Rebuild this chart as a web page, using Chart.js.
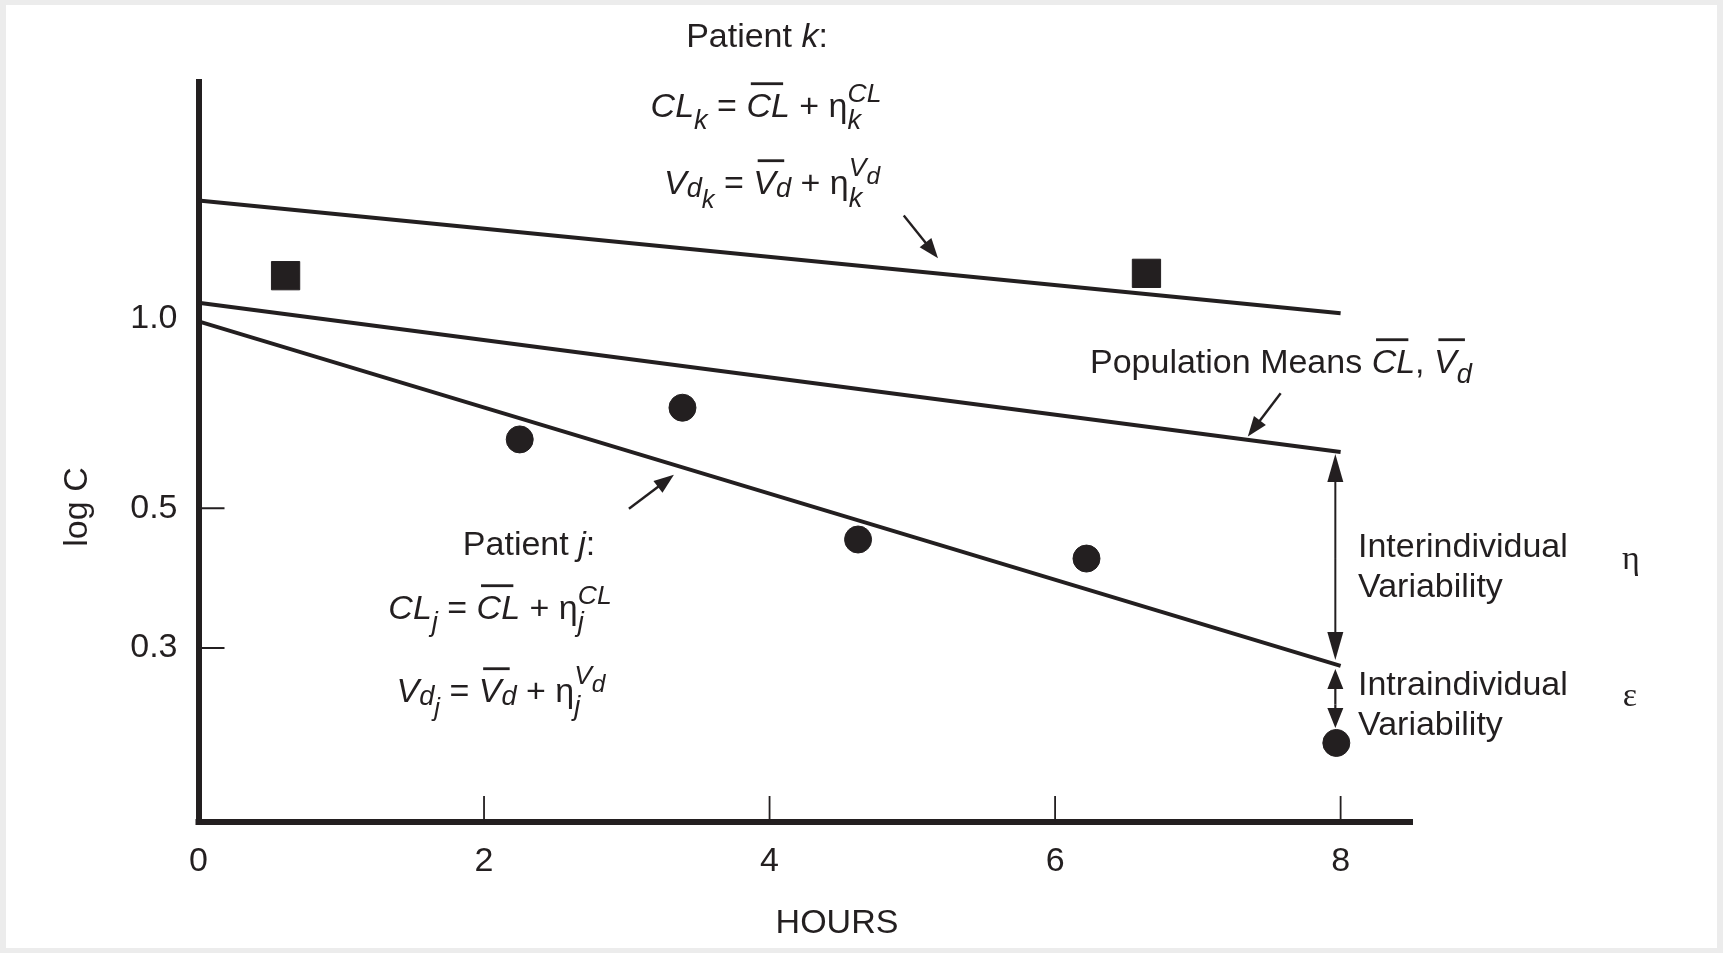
<!DOCTYPE html>
<html>
<head>
<meta charset="utf-8">
<script src="https://cdn.jsdelivr.net/npm/chart.js@4.4.0/dist/chart.umd.min.js"></script>
<style>
html, body { margin: 0; padding: 0; background: #fff; }
#wrap { width: 1723px; height: 953px; }
</style>
</head>
<body>
<div id="wrap"><canvas id="pkChart" width="1723" height="953"></canvas></div>
<script>
// Valori (ore, concentrazione su scala log)
const lineHours = [0, 8];
const patientK = [1.54, 1.02];
const populationMean = [1.06, 0.614];
const patientJ = [0.99, 0.281];
const circleHours = [2.25, 3.39, 4.62, 6.22, 7.97];
const circleConc = [0.643, 0.722, 0.446, 0.416, 0.212];
const squareHours = [0.61, 6.64];
const squareConc = [1.17, 1.18];
const xTicks = [0, 2, 4, 6, 8];
const yTicks = [0.3, 0.5, 1.0];

// Frecce di annotazione (coda, punta) in coordinate dati
const arrowK = [[4.94, 1.458], [5.18, 1.247]];
const arrowPop = [[7.58, 0.761], [7.35, 0.650]];
const arrowJ = [[3.015, 0.499], [3.33, 0.565]];

const INK = '#231f20';
const SANS = '"Liberation Sans", Arial, Helvetica, sans-serif';
const FS = 34;

function pts(xs, ys) {
    return xs.map((x, i) => ({ x: x, y: ys[i] }));
}

// Testo con pedici / apici / barre
function drawRich(ctx, tokens, x, y, align) {
    let cur = 0, lastStart = 0;
    const items = [];
    tokens.forEach(tk => {
        const sc = tk.sc || 1;
        const font = (tk.it ? 'italic ' : '') + (FS * sc) + 'px ' + SANS;
        ctx.font = font;
        const w = ctx.measureText(tk.t).width;
        const px = tk.stack ? lastStart : cur;
        if (!tk.stack) lastStart = px;
        cur = Math.max(cur, px + w);
        items.push({ tk: tk, font: font, px: px, w: w, dy: (tk.dy || 0) * FS });
    });
    const x0 = align === 'center' ? x - cur / 2 : (align === 'right' ? x - cur : x);
    ctx.textAlign = 'left';
    ctx.textBaseline = 'alphabetic';
    items.forEach(it => {
        ctx.font = it.font;
        ctx.fillText(it.tk.t, x0 + it.px, y + it.dy);
        if (it.tk.bar) {
            // barra sopra (bar = larghezza in em)
            ctx.fillRect(x0 + it.px + FS * 0.13, y - FS * 1.02, FS * it.tk.bar, 2.8);
        }
    });
}

function arrow(ctx, x1, y1, x2, y2, len, half, lw) {
    const a = Math.atan2(y2 - y1, x2 - x1);
    ctx.lineWidth = lw;
    ctx.beginPath();
    ctx.moveTo(x1, y1);
    ctx.lineTo(x2 - Math.cos(a) * len * 0.8, y2 - Math.sin(a) * len * 0.8);
    ctx.stroke();
    ctx.beginPath();
    ctx.moveTo(x2, y2);
    ctx.lineTo(x2 - Math.cos(a) * len - Math.sin(a) * half, y2 - Math.sin(a) * len + Math.cos(a) * half);
    ctx.lineTo(x2 - Math.cos(a) * len + Math.sin(a) * half, y2 - Math.sin(a) * len - Math.cos(a) * half);
    ctx.closePath();
    ctx.fill();
}

const bgPlugin = {
    id: 'bgPlugin',
    beforeDraw(chart) {
        const ctx = chart.ctx;
        ctx.save();
        ctx.fillStyle = '#ececec';
        ctx.fillRect(0, 0, chart.width, chart.height);
        ctx.fillStyle = '#ffffff';
        ctx.fillRect(6, 5, chart.width - 12, chart.height - 10);
        ctx.restore();
    }
};

const annotationPlugin = {
    id: 'annotationPlugin',
    afterDraw(chart) {
        const ctx = chart.ctx;
        const xs = chart.scales.x, ys = chart.scales.y;
        const area = chart.chartArea;
        const X = v => xs.getPixelForValue(v);
        const Y = v => ys.getPixelForValue(v);
        ctx.save();
        ctx.fillStyle = INK;
        ctx.strokeStyle = INK;

        // angolo assi
        ctx.fillRect(area.left - 3, area.bottom - 3, 6, 6);

        // tacche interne
        ctx.lineWidth = 1.8;
        ctx.beginPath();
        xTicks.filter(v => v > 0).forEach(v => {
            ctx.moveTo(X(v), area.bottom);
            ctx.lineTo(X(v), area.bottom - 26);
        });
        yTicks.filter(v => v < 1).forEach(v => {
            ctx.moveTo(area.left, Y(v));
            ctx.lineTo(area.left + 26, Y(v));
        });
        ctx.stroke();

        // frecce diagonali
        [arrowK, arrowPop, arrowJ].forEach(a => {
            arrow(ctx, X(a[0][0]), Y(a[0][1]), X(a[1][0]), Y(a[1][1]), 20, 7.5, 2.4);
        });

        // variabilita' inter / intra individuale
        const vx = X(circleHours[4]) - 1;
        const yPop = Y(populationMean[1]);
        const yJ = Y(patientJ[1]);
        const yC = Y(circleConc[4]);
        arrow(ctx, vx, (yPop + yJ) / 2, vx, yPop + 2, 28, 8, 2);
        arrow(ctx, vx, (yPop + yJ) / 2, vx, yJ - 6, 28, 8, 2);
        arrow(ctx, vx, (yJ + yC) / 2, vx, yJ + 3, 20, 8, 2.2);
        arrow(ctx, vx, (yJ + yC) / 2, vx, yC - 15, 20, 8, 2.2);

        // testi
        drawRich(ctx, [{ t: 'Patient ' }, { t: 'k', it: 1 }, { t: ':' }], 757, 47, 'center');
        drawRich(ctx, [
            { t: 'CL', it: 1 }, { t: 'k', it: 1, sc: 0.8, dy: 0.36 }, { t: ' = ' },
            { t: 'CL', it: 1, bar: 0.95 }, { t: ' + η' },
            { t: 'k', it: 1, sc: 0.8, dy: 0.36 }, { t: 'CL', it: 1, sc: 0.78, dy: -0.44, stack: 1 }
        ], 766, 117, 'center');
        drawRich(ctx, [
            { t: 'V', it: 1 }, { t: 'd', it: 1, sc: 0.8, dy: 0.1 }, { t: 'k', it: 1, sc: 0.75, dy: 0.4 }, { t: ' = ' },
            { t: 'V', it: 1, bar: 0.78 }, { t: 'd', it: 1, sc: 0.8, dy: 0.1 }, { t: ' + η' },
            { t: 'k', it: 1, sc: 0.8, dy: 0.38 }, { t: 'V', it: 1, sc: 0.78, dy: -0.52, stack: 1 },
            { t: 'd', it: 1, sc: 0.72, dy: -0.3 }
        ], 772, 194, 'center');

        drawRich(ctx, [
            { t: 'Population Means ' }, { t: 'CL', it: 1, bar: 0.95 }, { t: ', ' },
            { t: 'V', it: 1, bar: 0.78 }, { t: 'd', it: 1, sc: 0.8, dy: 0.28 }
        ], 1090, 373, 'left');

        drawRich(ctx, [{ t: 'Patient ' }, { t: 'j', it: 1 }, { t: ':' }], 529, 555, 'center');
        drawRich(ctx, [
            { t: 'CL', it: 1 }, { t: 'j', it: 1, sc: 0.8, dy: 0.36 }, { t: ' = ' },
            { t: 'CL', it: 1, bar: 0.95 }, { t: ' + η' },
            { t: 'j', it: 1, sc: 0.8, dy: 0.36 }, { t: 'CL', it: 1, sc: 0.78, dy: -0.44, stack: 1 }
        ], 500, 619, 'center');
        drawRich(ctx, [
            { t: 'V', it: 1 }, { t: 'd', it: 1, sc: 0.8, dy: 0.1 }, { t: 'j', it: 1, sc: 0.75, dy: 0.42 }, { t: ' = ' },
            { t: 'V', it: 1, bar: 0.78 }, { t: 'd', it: 1, sc: 0.8, dy: 0.1 }, { t: ' + η' },
            { t: 'j', it: 1, sc: 0.8, dy: 0.38 }, { t: 'V', it: 1, sc: 0.78, dy: -0.52, stack: 1 },
            { t: 'd', it: 1, sc: 0.72, dy: -0.3 }
        ], 501, 702, 'center');

        ctx.font = FS + 'px ' + SANS;
        ctx.textAlign = 'left';
        ctx.fillText('Interindividual', 1358, 557);
        ctx.fillText('Variability', 1358, 597);
        ctx.fillText('Intraindividual', 1358, 695);
        ctx.fillText('Variability', 1358, 735);

        ctx.font = FS + 'px "Liberation Serif", "Times New Roman", serif';
        ctx.textAlign = 'center';
        ctx.fillText('η', 1631, 569);
        ctx.fillText('ε', 1630, 706);

        // titoli assi
        ctx.font = FS + 'px ' + SANS;
        ctx.fillText('HOURS', 837, 933);
        ctx.save();
        ctx.translate(87, 507);
        ctx.rotate(-Math.PI / 2);
        ctx.fillText('log C', 0, 0);
        ctx.restore();

        ctx.restore();
    }
};

const lineStyle = {
    showLine: true,
    borderColor: INK,
    borderWidth: 4,
    pointRadius: 0,
    fill: false
};

new Chart(document.getElementById('pkChart'), {
    type: 'scatter',
    data: {
        datasets: [
            Object.assign({ label: 'Patient k', data: pts(lineHours, patientK) }, lineStyle),
            Object.assign({ label: 'Population means', data: pts(lineHours, populationMean) }, lineStyle),
            Object.assign({ label: 'Patient j', data: pts(lineHours, patientJ) }, lineStyle),
            {
                label: 'Patient j obs',
                data: pts(circleHours, circleConc),
                pointStyle: 'circle',
                pointRadius: 13.5,
                backgroundColor: INK,
                borderColor: INK,
                borderWidth: 1
            },
            {
                label: 'Patient k obs',
                data: pts(squareHours, squareConc),
                pointStyle: 'rect',
                pointRadius: 20,
                backgroundColor: INK,
                borderColor: INK,
                borderWidth: 1
            }
        ]
    },
    options: {
        responsive: false,
        animation: false,
        events: [],
        layout: { padding: { left: 0, right: 311, top: 82, bottom: 0 } },
        plugins: {
            legend: { display: false },
            tooltip: { enabled: false }
        },
        scales: {
            x: {
                type: 'linear',
                min: 0,
                max: 8.5,
                afterBuildTicks: s => { s.ticks = xTicks.map(v => ({ value: v })); },
                afterFit: s => { s.height = 131; },
                grid: { display: false, drawTicks: false },
                border: { display: true, width: 6, color: INK },
                ticks: {
                    font: { family: SANS, size: FS },
                    color: INK,
                    padding: 19,
                    maxRotation: 0,
                    autoSkip: false
                }
            },
            y: {
                type: 'logarithmic',
                min: 0.1588,
                max: 2.375,
                afterBuildTicks: s => { s.ticks = yTicks.map(v => ({ value: v })); },
                afterFit: s => { s.width = 198.5; },
                grid: { display: false, drawTicks: false },
                border: { display: true, width: 6, color: INK },
                ticks: {
                    font: { family: SANS, size: FS },
                    color: INK,
                    padding: 21,
                    autoSkip: false,
                    callback: v => Number(v).toFixed(1)
                }
            }
        }
    },
    plugins: [bgPlugin, annotationPlugin]
});
</script>
</body>
</html>
